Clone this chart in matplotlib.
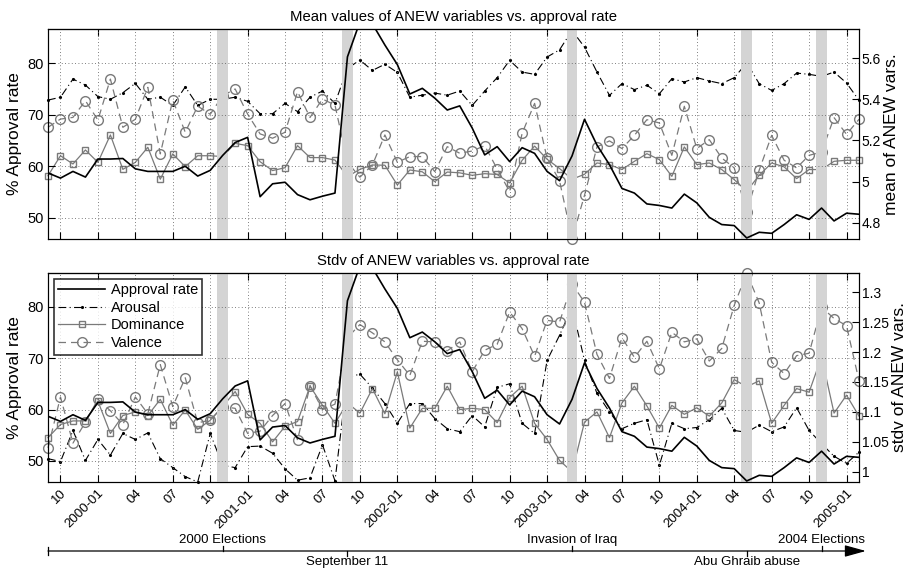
import numpy as np
import pandas as pd
import matplotlib.pyplot as plt

# monthly data, 1999-09 .. 2005-02
months = pd.period_range('1999-09', periods=66, freq='M')

approval = [58.7, 57.7, 59.0, 57.9, 61.4, 61.4, 61.5, 59.5, 59.0, 59.0, 59.0, 60.0,
            58.1, 59.2, 62.1, 64.6, 65.6, 54.1, 56.6, 56.9, 54.5, 53.5, 54.2, 54.8,
            81.2, 88.0, 87.6, 83.5, 79.7, 74.0, 75.1, 73.2, 70.9, 71.7, 67.4, 62.2,
            63.8, 60.9, 63.6, 62.5, 59.0, 57.2, 62.0, 69.1, 64.1, 60.3, 55.7, 54.8,
            52.7, 52.4, 51.9, 54.6, 52.9, 50.1, 48.7, 48.5, 46.1, 47.2, 47.0, 48.7,
            50.6, 49.7, 51.9, 49.4, 50.9, 50.7]

mean_arousal = [5.396, 5.41, 5.498, 5.469, 5.413, 5.40, 5.432, 5.477, 5.40, 5.41, 5.37, 5.46,
                5.37, 5.40, 5.40, 5.41, 5.39, 5.33, 5.33, 5.38, 5.34, 5.41, 5.44, 5.38,
                5.55, 5.59, 5.54, 5.57, 5.53, 5.41, 5.42, 5.43, 5.42, 5.44, 5.37, 5.44,
                5.505, 5.589, 5.532, 5.521, 5.605, 5.64, 5.734, 5.653, 5.532, 5.419, 5.476, 5.447,
                5.468, 5.427, 5.50, 5.484, 5.505, 5.489, 5.476, 5.505, 5.576, 5.476, 5.443, 5.476,
                5.527, 5.521, 5.511, 5.532, 5.479, 5.395]

mean_dominance = [5.029, 5.126, 5.086, 5.154, 5.094, 5.227, 5.060, 5.094, 5.167, 5.012, 5.135, 5.073,
                  5.126, 5.126, 5.122, 5.186, 5.175, 5.097, 5.054, 5.068, 5.175, 5.117, 5.117, 5.105,
                  5.025, 5.06, 5.081, 5.08, 4.984, 5.057, 5.048, 5.0, 5.047, 5.043, 5.031, 5.039,
                  5.035, 4.994, 5.104, 5.173, 5.109, 5.064, 5.012, 5.036, 5.091, 5.083, 5.059, 5.099,
                  5.136, 5.107, 5.026, 5.169, 5.083, 5.091, 5.059, 5.010, 4.954, 5.031, 5.091, 5.072,
                  5.015, 5.059, 5.059, 5.099, 5.104, 5.104]

mean_valence = [5.264, 5.304, 5.312, 5.393, 5.299, 5.498, 5.264, 5.303, 5.458, 5.135, 5.396, 5.240,
                5.367, 5.327, 5.417, 5.450, 5.328, 5.232, 5.211, 5.240, 5.437, 5.312, 5.401, 5.372,
                5.094, 5.022, 5.081, 5.227, 5.094, 5.122, 5.122, 5.049, 5.170, 5.138, 5.149, 5.175,
                5.062, 4.952, 5.235, 5.380, 5.114, 5.004, 4.724, 4.934, 5.169, 5.198, 5.161, 5.225,
                5.301, 5.285, 5.128, 5.366, 5.161, 5.204, 5.115, 5.067, 4.854, 5.056, 5.225, 5.104,
                5.067, 5.128, 5.144, 5.311, 5.230, 5.303]

std_arousal = [1.022, 1.017, 1.069, 1.019, 1.054, 1.028, 1.064, 1.054, 1.065, 1.022, 1.007, 0.992,
               0.983, 1.064, 1.011, 1.007, 1.042, 1.043, 1.031, 1.005, 0.986, 0.990, 1.045, 0.985,
               1.158, 1.163, 1.140, 1.114, 1.081, 1.114, 1.114, 1.089, 1.072, 1.067, 1.094, 1.075,
               1.141, 1.147, 1.081, 1.064, 1.186, 1.228, 1.275, 1.186, 1.131, 1.100, 1.072, 1.081,
               1.087, 1.011, 1.081, 1.072, 1.074, 1.087, 1.106, 1.069, 1.066, 1.078, 1.067, 1.075,
               1.107, 1.069, 1.047, 1.026, 1.014, 1.033]

std_dominance = [1.057, 1.079, 1.085, 1.085, 1.118, 1.064, 1.094, 1.100, 1.094, 1.121, 1.078, 1.103,
                 1.071, 1.086, 1.109, 1.134, 1.096, 1.081, 1.050, 1.076, 1.084, 1.143, 1.111, 1.081,
                 1.115, 1.098, 1.139, 1.097, 1.167, 1.073, 1.106, 1.106, 1.143, 1.104, 1.106, 1.104,
                 1.082, 1.124, 1.143, 1.081, 1.054, 1.019, 1.000, 1.083, 1.100, 1.057, 1.115, 1.143,
                 1.110, 1.073, 1.111, 1.096, 1.107, 1.093, 1.115, 1.154, 1.142, 1.152, 1.081, 1.111,
                 1.139, 1.133, 1.192, 1.098, 1.128, 1.093]

std_valence = [1.040, 1.125, 1.048, 1.083, 1.121, 1.102, 1.079, 1.125, 1.097, 1.179, 1.109, 1.157,
               1.082, 1.086, 1.109, 1.106, 1.064, 1.068, 1.094, 1.114, 1.053, 1.144, 1.104, 1.113,
               1.224, 1.246, 1.232, 1.217, 1.187, 1.161, 1.218, 1.217, 1.202, 1.217, 1.167, 1.203,
               1.213, 1.267, 1.239, 1.193, 1.253, 1.250, 1.314, 1.283, 1.196, 1.156, 1.224, 1.191,
               1.218, 1.172, 1.233, 1.217, 1.222, 1.185, 1.206, 1.278, 1.332, 1.282, 1.183, 1.164,
               1.194, 1.198, 1.275, 1.256, 1.244, 1.152]

events = ['2000 Elections', 'September 11', 'Invasion of Iraq', 'Abu Ghraib abuse', '2004 Elections']
event_months = ['2000-11', '2001-09', '2003-03', '2004-05', '2004-11']
event_side = [1, -1, 1, -1, 1]

plt.rcParams['font.family'] = ['Liberation Sans', 'DejaVu Sans']

x = np.arange(len(months))
ev_x = [months.get_loc(pd.Period(m, 'M')) for m in event_months]
tick_x = x[1::3]
tick_lbl = [f'{p.year}-01' if p.month == 1 else f'{p.month:02d}' for p in months[1::3]]
year_x = [i for i in x if months[i].month == 1]

gray = '#7a7a7a'
fig = plt.figure(figsize=(9.05, 5.7), dpi=100)
L, W = 48 / 905, 811 / 905


def panel(rect, title, arousal, dominance, valence, ylim2, yticks2, ylabel2):
    ax = fig.add_axes(rect)
    ax2 = ax.twinx()
    for e in ev_x:
        ax.axvspan(e - 0.42, e + 0.42, color='#d4d4d4', lw=0, zorder=0)
    h0, = ax.plot(x, approval, color='k', lw=1.2, label='Approval rate', zorder=3)
    # ANEW values stay inside the limits, so markers may overhang the frame
    h1, = ax2.plot(x, arousal, color='k', lw=0.8, ls=(0, (7, 3, 1, 3)), marker='.', ms=2.5,
                   label='Arousal', clip_on=False)
    h2, = ax2.plot(x, dominance, color=gray, lw=0.9, marker='s', ms=4.8, mfc='none',
                   mec=gray, mew=1.0, label='Dominance', clip_on=False)
    h3, = ax2.plot(x, valence, color=gray, lw=0.9, ls=(0, (6, 4)), marker='o', ms=7,
                   mfc='none', mec=gray, mew=1.0, label='Valence', clip_on=False)
    ax.set_xlim(0, 65)
    ax.set_ylim(45.9, 86.6)
    ax.set_yticks([50, 60, 70, 80])
    ax2.set_ylim(*ylim2)
    ax2.set_yticks(yticks2)
    ax2.set_yticklabels([f'{v:g}' for v in yticks2])
    ax.set_xticks(tick_x)
    ax.set_xticklabels([])
    ax.grid(True, ls=(0, (1, 3)), color='#555555', lw=0.6)
    ax.tick_params(direction='in', length=5, labelsize=10.5, top=False, pad=3)
    ax2.tick_params(direction='in', length=5, labelsize=10, pad=2)
    top = ax.secondary_xaxis('top')
    top.set_xticks(year_x)
    top.set_xticklabels([])
    top.tick_params(direction='in', length=5)
    ax.set_ylabel('% Approval rate', fontsize=12.5, labelpad=4)
    ax2.set_ylabel(ylabel2, fontsize=12.5, labelpad=2)
    ax.set_title(title, fontsize=10.7, pad=6)
    ax.set_zorder(ax2.get_zorder() + 1)
    ax.patch.set_visible(False)
    return ax, ax2, [h0, h1, h2, h3]


ax_a, ax_a2, _ = panel([L, 1 - 239 / 570, W, 210 / 570],
                       'Mean values of ANEW variables vs. approval rate',
                       mean_arousal, mean_dominance, mean_valence,
                       (4.722, 5.741), [4.8, 5.0, 5.2, 5.4, 5.6], 'mean of ANEW vars.')
ax_b, ax_b2, hs = panel([L, 1 - 482 / 570, W, 209 / 570],
                        'Stdv of ANEW variables vs. approval rate',
                        std_arousal, std_dominance, std_valence,
                        (0.983, 1.332), [1.0, 1.05, 1.1, 1.15, 1.2, 1.25, 1.3],
                        'stdv of ANEW vars.')
ax_b.set_xticklabels(tick_lbl, rotation=45, ha='right', va='top', rotation_mode='anchor',
                     fontsize=9.5)
ax_b.tick_params(axis='x', pad=4)
leg = ax_b.legend(handles=hs, loc='upper left', fontsize=10.5, frameon=True, fancybox=False,
                  handlelength=3.2, borderaxespad=0.4, labelspacing=0.25, borderpad=0.3,
                  handletextpad=0.4)
leg.get_frame().set_edgecolor('k')
leg.get_frame().set_linewidth(1.2)

# timeline of events
ax_t = fig.add_axes([L, 0, W, 60 / 570])
ax_t.set_xlim(0, 65)
ax_t.set_ylim(0, 60)
ax_t.axis('off')
ax_t.annotate('', xy=(65.55, 19), xytext=(0, 19),
              arrowprops=dict(arrowstyle='-|>,head_length=1.3,head_width=0.36',
                              color='k', lw=0.9, mutation_scale=10, shrinkA=0, shrinkB=0),
              annotation_clip=False)
ax_t.plot([0, 0], [15, 23], color='k', lw=0.9, clip_on=False)
for e, name, s in zip(ev_x, events, event_side):
    ax_t.plot([e, e], [19, 19 + 5 * s], color='k', lw=0.9, clip_on=False)
    ax_t.text(e, 19 + 11 * s, name, ha='center', va='center', fontsize=9.5)

fig.savefig('out.png', dpi=100)
